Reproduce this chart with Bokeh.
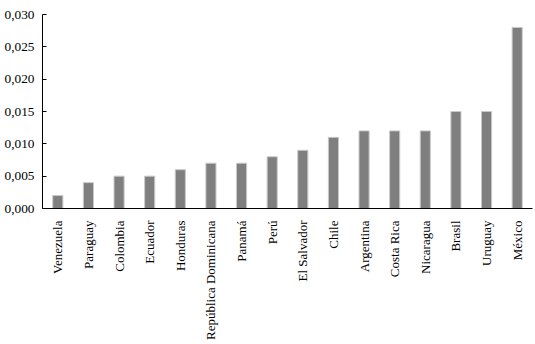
import math
from bokeh.plotting import figure
from bokeh.models import FixedTicker, CustomJSTickFormatter, ColumnDataSource
from bokeh.embed import file_html
from bokeh.resources import INLINE

countries = ["Venezuela", "Paraguay", "Colombia", "Ecuador", "Honduras",
             "República Dominicana", "Panamá", "Perú", "El Salvador", "Chile",
             "Argentina", "Costa Rica", "Nicaragua", "Brasil", "Uruguay", "México"]
values = [0.002, 0.004, 0.005, 0.005, 0.006, 0.007, 0.007, 0.008, 0.009, 0.011,
          0.012, 0.012, 0.012, 0.015, 0.015, 0.028]
y_ticks = [0.0, 0.005, 0.010, 0.015, 0.020, 0.025, 0.030]

src = ColumnDataSource(dict(x=countries, top=values))

p = figure(x_range=countries, y_range=(0, 0.030), width=535, height=344,
           output_backend="svg", toolbar_location=None,
           min_border_left=42, min_border_right=3, min_border_top=14,
           min_border_bottom=136)
p.vbar(x="x", top="top", width=0.33, source=src,
       fill_color="#7f7f80", line_color="#c8c8c8", line_width=1)

p.outline_line_color = None
p.xgrid.grid_line_color = None
p.ygrid.grid_line_color = None

font = "Liberation Serif"
p.yaxis.ticker = FixedTicker(ticks=y_ticks)
p.yaxis.formatter = CustomJSTickFormatter(code="return tick.toFixed(3).replace('.', ',');")
p.yaxis.major_tick_in = 4
p.yaxis.major_tick_out = 0
p.yaxis.minor_tick_line_color = None
p.yaxis.major_label_standoff = 8
p.yaxis.axis_line_color = "black"
p.yaxis.major_tick_line_color = "black"

p.xaxis.major_label_orientation = math.pi / 2
p.xaxis.major_tick_line_color = None
p.xaxis.minor_tick_line_color = None
p.xaxis.major_label_standoff = 6
p.xaxis.axis_line_color = "black"

p.xaxis.major_label_text_font_size = "13px"
p.yaxis.major_label_text_font_size = "13.33px"
for ax in (p.xaxis, p.yaxis):
    ax.major_label_text_font = font
    ax.major_label_text_color = "black"

open("out.html", "w").write(file_html(p, INLINE))
